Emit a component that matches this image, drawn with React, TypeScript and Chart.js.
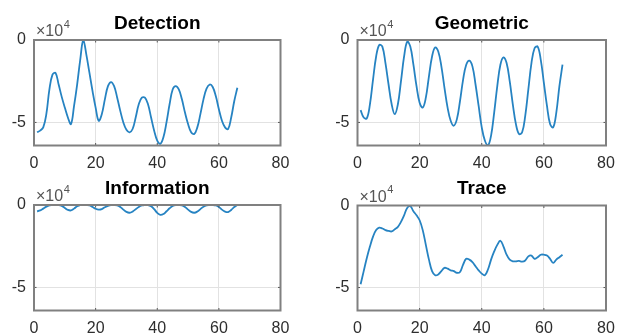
import React, { useEffect, useRef } from "react";
import { Chart, registerables } from "chart.js";

Chart.register(...registerables);

// Sample index (x axis)
const SAMPLE_INDEX = [
  1, 2, 3, 4, 5, 6, 7, 8, 9, 10, 11, 12, 13, 14, 15, 16, 17, 18, 19, 20, 21, 22,
  23, 24, 25, 26, 27, 28, 29, 30, 31, 32, 33, 34, 35, 36, 37, 38, 39, 40, 41, 42,
  43, 44, 45, 46, 47, 48, 49, 50, 51, 52, 53, 54, 55, 56, 57, 58, 59, 60, 61, 62,
  63, 64, 65, 66,
];

// Series values, in units of 10^4
const DETECTION = [
  -5.6, -5.5, -5.3, -4.5, -3.0, -2.1, -2.0, -2.7, -3.45, -4.1, -4.7, -5.1, -4.0,
  -2.7, -1.2, 0, -0.9, -2.0, -3.1, -4.1, -4.9, -4.5, -3.6, -2.8, -2.55, -2.8, -3.5,
  -4.3, -5.0, -5.45, -5.6, -5.4, -4.7, -3.9, -3.5, -3.5, -3.9, -4.7, -5.5, -6.1,
  -6.3, -5.9, -5.0, -3.9, -3.0, -2.8, -3.0, -3.6, -4.4, -5.1, -5.6, -5.7, -5.3,
  -4.5, -3.6, -2.95, -2.7, -2.85, -3.4, -4.2, -4.9, -5.3, -5.4, -4.7, -3.7, -2.9,
];

const GEOMETRIC = [
  -4.25, -4.7, -4.75, -3.9, -2.4, -1.0, -0.3, -0.4, -1.4, -2.7, -3.9, -4.5, -3.9,
  -2.5, -1.0, -0.1, -0.4, -1.5, -2.8, -3.8, -4.1, -3.5, -2.2, -1.0, -0.45, -0.7,
  -1.6, -2.9, -4.1, -4.9, -5.2, -4.8, -3.7, -2.4, -1.5, -1.25, -1.6, -2.7, -4.0,
  -5.3, -6.1, -6.4, -5.8, -4.4, -2.8, -1.5, -1.05, -1.4, -2.5, -3.9, -5.1, -5.7,
  -5.6, -4.6, -3.0, -1.4, -0.5, -0.4, -1.2, -2.6, -4.0, -5.1, -5.3, -4.4, -2.8, -1.5,
];

const INFORMATION = [
  -0.38, -0.33, -0.22, -0.1, -0.02, 0, 0, 0, -0.05, -0.18, -0.3, -0.33, -0.22,
  -0.08, 0, 0, 0, -0.02, -0.12, -0.23, -0.28, -0.25, -0.14, -0.05, 0, 0, -0.02,
  -0.12, -0.28, -0.42, -0.47, -0.4, -0.26, -0.12, -0.03, 0, 0, -0.08, -0.25, -0.48,
  -0.6, -0.55, -0.38, -0.2, -0.06, 0, 0, -0.02, -0.12, -0.28, -0.42, -0.47, -0.4,
  -0.25, -0.1, -0.02, 0, 0, -0.03, -0.12, -0.28, -0.4, -0.43, -0.3, -0.12, 0,
];

const TRACE = [
  -4.8, -4.0, -3.2, -2.5, -1.9, -1.5, -1.35, -1.4, -1.5, -1.55, -1.58, -1.45, -1.3,
  -1.0, -0.6, -0.15, -0.05, -0.35, -0.6, -0.9, -1.5, -2.4, -3.3, -4.0, -4.25, -4.2,
  -4.0, -3.8, -3.85, -3.95, -4.0, -4.1, -4.05, -3.6, -3.25, -3.3, -3.45, -3.7,
  -3.95, -4.15, -4.25, -3.9, -3.3, -2.8, -2.4, -2.15, -2.5, -3.0, -3.3, -3.4, -3.4,
  -3.38, -3.42, -3.35, -3.1, -3.05, -3.25, -3.15, -3.0, -3.0, -3.05, -3.25, -3.5,
  -3.3, -3.15, -3.0,
];

const TITLES = ["Detection", "Geometric", "Information", "Trace"];
const SERIES = [DETECTION, GEOMETRIC, INFORMATION, TRACE];

const X_TICKS = [0, 20, 40, 60, 80];
const Y_TICKS = [-5, 0];
const X_MIN = 0;
const X_MAX = 80;
const Y_MIN = -6.4;
const Y_MAX = 0;
const EXPONENT_BASE = "\u00d710";
const EXPONENT_POWER = "4";

const FONT = "'Liberation Sans', Arial, Helvetica, sans-serif";
const LINE_COLOR = "#2683c2";
const BOX_COLOR = "#808080";
const GRID_COLOR = "#e2e2e2";
const TEXT_COLOR = "#2e2e2e";

// Panel placement (canvas box + internal layout)
const PANELS = [
  { left: 0, top: 0, w: 312, h: 172, padTop: 40, padRight: 31.5, yw: 34, xh: 26.5 },
  { left: 312, top: 0, w: 312, h: 172, padTop: 40, padRight: 18, yw: 45.5, xh: 26.5 },
  { left: 0, top: 172, w: 312, h: 163, padTop: 33, padRight: 31.5, yw: 34, xh: 24.5 },
  { left: 312, top: 172, w: 312, h: 163, padTop: 33.5, padRight: 18, yw: 45.5, xh: 24.5 },
];

const matlabAxes = {
  id: "matlabAxes",
  afterDatasetsDraw(chart: any, _args: any, opts: any) {
    const { ctx, chartArea } = chart;
    const { left, right, top, bottom } = chartArea;
    const xs = chart.scales.x;
    const ys = chart.scales.y;
    ctx.save();
    // inner tick marks
    ctx.strokeStyle = "#555";
    ctx.lineWidth = 1;
    const tl = 2.5;
    X_TICKS.forEach((v) => {
      if (v === X_MIN || v === X_MAX) return;
      const px = xs.getPixelForValue(v);
      ctx.beginPath();
      ctx.moveTo(px, bottom);
      ctx.lineTo(px, bottom - tl);
      ctx.moveTo(px, top);
      ctx.lineTo(px, top + tl);
      ctx.stroke();
    });
    Y_TICKS.forEach((v) => {
      if (v === Y_MIN || v === Y_MAX) return;
      const py = ys.getPixelForValue(v);
      ctx.beginPath();
      ctx.moveTo(left, py);
      ctx.lineTo(left + tl, py);
      ctx.moveTo(right, py);
      ctx.lineTo(right - tl, py);
      ctx.stroke();
    });
    // box
    ctx.strokeStyle = BOX_COLOR;
    ctx.lineWidth = 2;
    ctx.strokeRect(left, top, right - left, bottom - top);
    // title
    ctx.fillStyle = "#000";
    ctx.font = `bold 19px ${FONT}`;
    ctx.textAlign = "center";
    ctx.textBaseline = "alphabetic";
    ctx.fillText(opts.title, (left + right) / 2, top - 11.5);
    // exponent
    ctx.fillStyle = "#555";
    ctx.textAlign = "left";
    ctx.font = `16px ${FONT}`;
    const bx = left + 2;
    ctx.fillText(EXPONENT_BASE, bx, top - 4);
    const w = ctx.measureText(EXPONENT_BASE).width;
    ctx.font = `11px ${FONT}`;
    ctx.fillText(EXPONENT_POWER, bx + w + 0.5, top - 12.5);
    ctx.restore();
  },
};

function Panel({ index }: { index: number }) {
  const ref = useRef<HTMLCanvasElement | null>(null);
  const p = PANELS[index];
  useEffect(() => {
    if (!ref.current) return;
    const values = SERIES[index];
    const chart = new Chart(ref.current, {
      type: "line",
      data: {
        datasets: [
          {
            data: SAMPLE_INDEX.map((x, i) => ({ x, y: values[i] })),
            borderColor: LINE_COLOR,
            borderWidth: 1.8,
            pointRadius: 0,
            tension: 0.4,
            fill: false,
          },
        ],
      },
      options: {
        animation: false,
        responsive: false,
        devicePixelRatio: 1,
        events: [],
        layout: { padding: { top: p.padTop, right: p.padRight, left: 0, bottom: 0 } },
        plugins: {
          legend: { display: false },
          tooltip: { enabled: false },
          title: { display: false },
          matlabAxes: { title: TITLES[index] },
        } as any,
        scales: {
          x: {
            type: "linear",
            min: X_MIN,
            max: X_MAX,
            afterBuildTicks: (s: any) => {
              s.ticks = X_TICKS.map((v) => ({ value: v }));
            },
            afterFit: (s: any) => {
              s.height = p.xh;
            },
            grid: { color: GRID_COLOR, lineWidth: 1, drawTicks: false },
            border: { display: false },
            ticks: {
              color: TEXT_COLOR,
              font: { family: FONT, size: 16 },
              padding: 8,
              maxRotation: 0,
              autoSkip: false,
            },
          },
          y: {
            type: "linear",
            min: Y_MIN,
            max: Y_MAX,
            afterBuildTicks: (s: any) => {
              s.ticks = Y_TICKS.map((v) => ({ value: v }));
            },
            afterFit: (s: any) => {
              s.width = p.yw;
            },
            grid: { color: GRID_COLOR, lineWidth: 1, drawTicks: false },
            border: { display: false },
            ticks: {
              color: TEXT_COLOR,
              font: { family: FONT, size: 16 },
              padding: 8,
              autoSkip: false,
              callback: (v: any) => String(v),
            },
          },
        },
      },
      plugins: [matlabAxes],
    });
    return () => chart.destroy();
  }, [index]);
  return (
    <canvas
      ref={ref}
      width={p.w}
      height={p.h}
      style={{ position: "absolute", left: p.left, top: p.top, width: p.w, height: p.h }}
    />
  );
}

export default function App() {
  return (
    <div
      style={{
        position: "fixed",
        left: 0,
        top: 0,
        width: 624,
        height: 335,
        background: "#fff",
        overflow: "hidden",
      }}
    >
      {[0, 1, 2, 3].map((i) => (
        <Panel key={i} index={i} />
      ))}
    </div>
  );
}
